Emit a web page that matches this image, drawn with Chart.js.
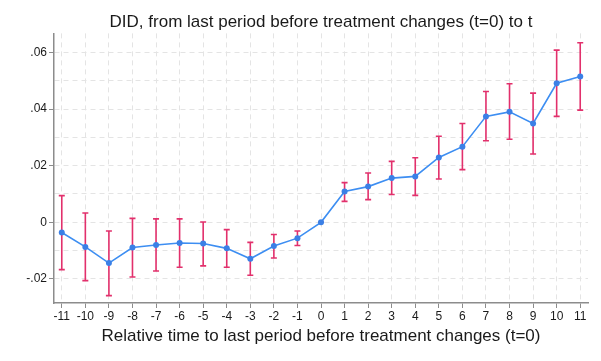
<!DOCTYPE html>
<html>
<head>
<meta charset="utf-8">
<script src="https://cdn.jsdelivr.net/npm/chart.js"></script>
<style>
  body { margin: 0; background: #fff; }
</style>
</head>
<body>
<canvas id="chart" width="601" height="361"></canvas>
<script>
// relative time periods
const periods = [-11, -10, -9, -8, -7, -6, -5, -4, -3, -2, -1, 0, 1, 2, 3, 4, 5, 6, 7, 8, 9, 10, 11];

// point estimates
const estimates = [
  -0.0036, -0.0087, -0.0144, -0.0089, -0.0080, -0.0073, -0.0075, -0.0092, -0.0129, -0.0084, -0.0056, 0,
  0.0109, 0.0126, 0.0156, 0.0162, 0.0229, 0.0267, 0.0374, 0.0390, 0.0349, 0.0491, 0.0515,
];

// confidence interval bounds
const ciLow = [
  -0.0167, -0.0206, -0.0259, -0.0193, -0.0172, -0.0159, -0.0154, -0.0159, -0.0187, -0.0126, -0.0082, 0,
  0.0074, 0.0080, 0.0098, 0.0095, 0.0153, 0.0186, 0.0288, 0.0293, 0.0241, 0.0374, 0.0396,
];
const ciHigh = [
  0.0094, 0.0033, -0.0031, 0.0014, 0.0012, 0.0012, 0.0001, -0.0026, -0.0071, -0.0043, -0.0031, 0,
  0.0140, 0.0174, 0.0215, 0.0228, 0.0304, 0.0349, 0.0462, 0.0489, 0.0456, 0.0608, 0.0634,
];

const font = "'Liberation Sans', Arial, sans-serif";
const axisGray = "#8c8c8c";

//Format y labels like .06 / -.02 / 0
const yLabel = v => {
  const n = Math.round(v * 100);
  if (n % 2 !== 0) return "";
  if (n === 0) return "0";
  return (n < 0 ? "-" : "") + "." + String(Math.abs(n)).padStart(2, "0");
};

//Error bars drawn from the scales
const errorBars = {
  id: "errorBars",
  beforeDatasetsDraw(chart) {
    const { ctx, scales } = chart;
    const xs = scales.x;
    const ys = scales.y;
    ctx.save();
    ctx.strokeStyle = "#e2306c";
    ctx.lineWidth = 1.6;
    periods.forEach((t, i) => {
      const x = xs.getPixelForValue(t);
      const y1 = ys.getPixelForValue(ciLow[i]);
      const y2 = ys.getPixelForValue(ciHigh[i]);
      ctx.beginPath();
      ctx.moveTo(x, y1);
      ctx.lineTo(x, y2);
      ctx.moveTo(x - 3, y1);
      ctx.lineTo(x + 3, y1);
      ctx.moveTo(x - 3, y2);
      ctx.lineTo(x + 3, y2);
      ctx.stroke();
    });
    ctx.restore();
  },
};

new Chart(document.getElementById("chart"), {
  type: "line",
  data: {
    datasets: [
      {
        data: periods.map((t, i) => ({ x: t, y: estimates[i] })),
        borderColor: "#3d8ef2",
        borderWidth: 1.6,
        pointRadius: 3,
        pointBackgroundColor: "#3b80e6",
        pointBorderWidth: 0,
        tension: 0,
      },
    ],
  },
  options: {
    responsive: false,
    animation: false,
    layout: { padding: { left: 0, right: 13, top: 0, bottom: 0 } },
    plugins: {
      legend: { display: false },
      tooltip: { enabled: false },
      title: {
        display: true,
        fullSize: false,
        text: "DID, from last period before treatment changes (t=0) to t",
        color: "#1a1a1a",
        font: { family: font, size: 17, weight: "normal" },
        padding: { top: 12, bottom: 1 },
      },
    },
    scales: {
      x: {
        type: "linear",
        min: -11.33,
        max: 11.33,
        afterFit: s => { s.height = 58; },
        border: { color: axisGray, width: 1.5, dash: [5, 4] },
        grid: { color: "#e4e4e4", lineWidth: 1, tickColor: axisGray, tickLength: 5, tickWidth: 1 },
        ticks: {
          stepSize: 1,
          includeBounds: false,
          autoSkip: false,
          maxRotation: 0,
          padding: 1,
          color: "#1a1a1a",
          font: { family: font, size: 12 },
        },
        title: {
          display: true,
          text: "Relative time to last period before treatment changes (t=0)",
          color: "#1a1a1a",
          font: { family: font, size: 17 },
          padding: { top: 0, bottom: 14 },
        },
      },
      y: {
        type: "linear",
        min: -0.0285,
        max: 0.0667,
        afterFit: s => { s.width = 54; },
        border: { color: axisGray, width: 1.5, dash: [5, 4] },
        grid: {
          color: "#e4e4e4",
          lineWidth: 1,
          tickLength: 5,
          tickWidth: 1,
          tickColor: c => (yLabel(c.tick.value) === "" ? "rgba(0,0,0,0)" : axisGray),
        },
        ticks: {
          stepSize: 0.01,
          includeBounds: false,
          autoSkip: false,
          padding: 2,
          color: "#1a1a1a",
          font: { family: font, size: 12 },
          callback: v => yLabel(v),
        },
      },
    },
  },
  plugins: [errorBars],
});
</script>
</body>
</html>
